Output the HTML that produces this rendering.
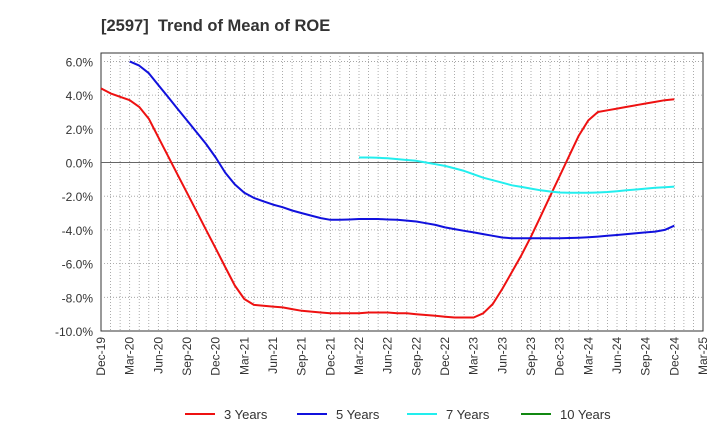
<!DOCTYPE html>
<html><head><meta charset="utf-8"><style>
body{margin:0;background:#fff;font-family:"Liberation Sans",Arial,sans-serif}
svg text{font-family:"Liberation Sans",Arial,sans-serif}
</style></head><body>
<svg id="chart" width="720" height="440" xmlns="http://www.w3.org/2000/svg">
<text x="101" y="31" font-size="16.5" font-weight="bold" fill="#333" xml:space="preserve">[2597]  Trend of Mean of ROE</text>
<g id="grid"></g><g id="axes"></g><g id="series"></g><g id="legend"></g>
</svg>
<script>
const xLabels=["Dec-19","Mar-20","Jun-20","Sep-20","Dec-20","Mar-21","Jun-21","Sep-21","Dec-21","Mar-22","Jun-22","Sep-22","Dec-22","Mar-23","Jun-23","Sep-23","Dec-23","Mar-24","Jun-24","Sep-24","Dec-24","Mar-25"];
const yTicks=[6,4,2,0,-2,-4,-6,-8,-10];
const seriesNames=["3 Years","5 Years","7 Years","10 Years"];
const seriesColors=["#ee1111","#1111dd","#22eeee","#118811"];
const seriesStart=[0,3,27,0];
const s3=[4.4,4.1,3.9,3.7,3.3,2.6,1.5,0.4,-0.7,-1.8,-2.9,-4.0,-5.1,-6.2,-7.3,-8.1,-8.45,-8.5,-8.55,-8.6,-8.7,-8.8,-8.85,-8.9,-8.95,-8.95,-8.95,-8.95,-8.9,-8.9,-8.9,-8.95,-8.95,-9.0,-9.05,-9.1,-9.15,-9.2,-9.2,-9.2,-8.95,-8.4,-7.5,-6.5,-5.5,-4.4,-3.2,-2.0,-0.8,0.4,1.6,2.5,3.0,3.1,3.2,3.3,3.4,3.5,3.6,3.7,3.75];
const s5=[6.0,5.75,5.3,4.6,3.9,3.2,2.5,1.8,1.1,0.3,-0.6,-1.3,-1.8,-2.1,-2.3,-2.5,-2.65,-2.85,-3.0,-3.15,-3.3,-3.4,-3.4,-3.38,-3.35,-3.35,-3.35,-3.38,-3.4,-3.45,-3.5,-3.6,-3.7,-3.85,-3.95,-4.05,-4.15,-4.25,-4.35,-4.45,-4.5,-4.5,-4.5,-4.5,-4.5,-4.5,-4.48,-4.46,-4.43,-4.4,-4.35,-4.3,-4.25,-4.2,-4.15,-4.1,-4.0,-3.75];
const s7=[0.3,0.3,0.28,0.25,0.2,0.15,0.1,0.0,-0.1,-0.2,-0.35,-0.5,-0.7,-0.9,-1.05,-1.2,-1.35,-1.45,-1.55,-1.65,-1.72,-1.78,-1.8,-1.8,-1.8,-1.78,-1.75,-1.7,-1.65,-1.6,-1.55,-1.5,-1.47,-1.43];
const s10=[];
const allSeries=[s3,s5,s7,s10];
const L=101,R=703,T=53,B=331,yMax=6.5,yMin=-10,nMonths=63;
const X=m=>L+(R-L)*m/nMonths;
const Y=v=>T+(yMax-v)/(yMax-yMin)*(B-T);
const NS="http://www.w3.org/2000/svg";
function mk(p,tag,at){const e=document.createElementNS(NS,tag);for(const k in at)e.setAttribute(k,at[k]);p.appendChild(e);return e;}
const grid=document.getElementById('grid'),axes=document.getElementById('axes'),ser=document.getElementById('series'),leg=document.getElementById('legend');
const bg=mk(grid,'rect',{x:L,y:T,width:R-L,height:B-T,fill:'#fff',stroke:'#333','stroke-width':1});


for(let m=1;m<nMonths;m++){const gl=mk(grid,'line',{x1:X(m),x2:X(m),y1:T,y2:B,stroke:'#999','stroke-width':0.8,'stroke-dasharray':'1,2'});

}
yTicks.forEach(v=>{if(v===0||v===-10)return;const gl=mk(grid,'line',{x1:L,x2:R,y1:Y(v),y2:Y(v),stroke:'#999','stroke-width':0.8,'stroke-dasharray':'1,2'});

});
const zl=mk(grid,'line',{x1:L,x2:R,y1:Y(0),y2:Y(0),stroke:'#666','stroke-width':1});


yTicks.forEach(v=>{const t=mk(axes,'text',{x:L-8,y:Y(v)+5,'text-anchor':'end','font-size':12,fill:'#333'});t.textContent=v.toFixed(1)+'%';

});
xLabels.forEach((s,i)=>{const x=X(i*3);const t=mk(axes,'text',{x:0,y:0,'text-anchor':'end','font-size':12,fill:'#333',transform:`translate(${x+4},${B+6}) rotate(-90)`});t.textContent=s;

});
allSeries.forEach((d,i)=>{if(!d.length)return;const pts=d.map((v,j)=>X(seriesStart[i]+j).toFixed(1)+','+Y(v).toFixed(1)).join(' ');
const pl=mk(ser,'polyline',{points:pts,fill:'none',stroke:seriesColors[i],'stroke-width':2,'stroke-linejoin':'round'});

});
const lx=[185,297,407,521];
seriesNames.forEach((n,i)=>{const g=mk(leg,'g',{});


mk(g,'line',{x1:lx[i],x2:lx[i]+30,y1:414,y2:414,stroke:seriesColors[i],'stroke-width':2});
const t=mk(g,'text',{x:lx[i]+39,y:419,'font-size':13,fill:'#333'});t.textContent=n;});
</script>
</body></html>
